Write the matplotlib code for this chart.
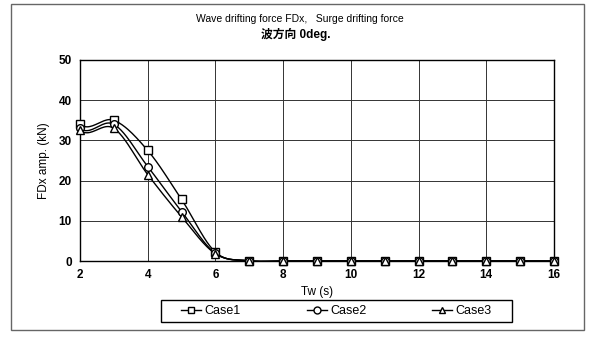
import numpy as np
import matplotlib
matplotlib.use("Agg")
import matplotlib.pyplot as plt
from matplotlib.patches import Rectangle

plt.rcParams['font.family'] = ['Liberation Sans', 'Noto Sans CJK JP', 'DejaVu Sans']

# first point (Tw=1) lies outside the visible axis range, only its curve shows
tw = [1, 2, 3, 4, 5, 6, 7, 8, 9, 10, 11, 12, 13, 14, 15, 16]
case1 = [48.0, 34.0, 35.0, 27.5, 15.3, 2.2, 0.1, 0, 0, 0, 0, 0, 0, 0, 0, 0]
case2 = [47.0, 33.0, 34.0, 23.5, 12.3, 1.9, 0.05, 0, 0, 0, 0, 0, 0, 0, 0, 0]
case3 = [46.0, 32.5, 33.0, 21.5, 11.0, 1.8, 0.05, 0, 0, 0, 0, 0, 0, 0, 0, 0]
series = [("Case1", case1, "s"), ("Case2", case2, "o"), ("Case3", case3, "^")]
xticks = [2, 4, 6, 8, 10, 12, 14, 16]
yticks = [0, 10, 20, 30, 40, 50]


def smooth(x, y, n=24):
    # Catmull-Rom smoothing (like a spreadsheet "smoothed line")
    x = np.asarray(x, float); y = np.asarray(y, float)
    px = np.concatenate([[x[0]], x, [x[-1]]])
    py = np.concatenate([[y[0]], y, [y[-1]]])
    xs, ys = [], []
    for i in range(1, len(px) - 2):
        t = np.linspace(0, 1, n, endpoint=False)
        for arr, out in ((px, xs), (py, ys)):
            p0, p1, p2, p3 = arr[i - 1], arr[i], arr[i + 1], arr[i + 2]
            m1 = (p2 - p0) / 2
            m2 = (p3 - p1) / 2
            h00 = 2 * t**3 - 3 * t**2 + 1
            h10 = t**3 - 2 * t**2 + t
            h01 = -2 * t**3 + 3 * t**2
            h11 = t**3 - t**2
            out.extend(h00 * p1 + h10 * m1 + h01 * p2 + h11 * m2)
    xs.append(x[-1]); ys.append(y[-1])
    return np.array(xs), np.array(ys)


W, H = 600, 337
fig = plt.figure(figsize=(6, 3.37), dpi=100)
fig.patches.append(Rectangle((11 / W, 1 - 330 / H), 573 / W, 326 / H,
                             transform=fig.transFigure, fill=False,
                             edgecolor='#666666', lw=1.0))
ax = fig.add_axes([80 / W, 1 - 261 / H, 474 / W, 201 / H])

handles = []
for name, vals, mk in series:
    sx, sy = smooth(tw, vals)
    ax.plot(sx, sy, color='black', lw=1.0, zorder=3)
    mx = [a for a in tw if a >= xticks[0]]
    my = [b for a, b in zip(tw, vals) if a >= xticks[0]]
    ax.plot(mx, my, linestyle='none', marker=mk, markersize=5.5,
            markerfacecolor='white', markeredgecolor='black', mew=1.0,
            zorder=4, clip_on=False)
    h, = ax.plot([], [], color='black', lw=1.0, marker=mk, markersize=5,
                 markerfacecolor='white', markeredgecolor='black')
    handles.append((h, name))

ax.set_xlim(2, 16)
ax.set_ylim(0, 50)
ax.set_xticks(xticks)
ax.set_yticks(yticks)
ax.grid(True, color='#333333', lw=0.7)
ax.set_axisbelow(True)
for s in ax.spines.values():
    s.set_color('black')
    s.set_linewidth(1.0)
ax.tick_params(length=0, labelsize=8.5, pad=6)
for lbl in ax.get_xticklabels() + ax.get_yticklabels():
    lbl.set_fontweight('bold')
ax.set_xlabel("Tw (s)", fontsize=8.5, labelpad=3)
ax.set_ylabel("FDx amp. (kN)", fontsize=8.5, labelpad=6)

fig.text(300 / W, 1 - 19 / H, "Wave drifting force FDx,   Surge drifting force",
         ha='center', va='center', fontsize=7.5)
fig.text(296 / W, 1 - 34 / H, "波方向 0deg.", ha='center', va='center',
         fontsize=8.5, fontweight='bold')

# legend box
fig.patches.append(Rectangle((161 / W, 1 - 322 / H), 351 / W, 22 / H,
                             transform=fig.transFigure, fill=False,
                             edgecolor='black', lw=1.0))
leg = fig.legend([h for h, _ in handles], [n for _, n in handles],
                 loc='center', bbox_to_anchor=(181 / W, 1 - 322 / H, 311 / W, 22 / H),
                 mode='expand', ncol=3, fontsize=9, frameon=False,
                 handlelength=1.6, handletextpad=0.3, borderpad=0.0,
                 borderaxespad=0.0)

fig.savefig("out.png", dpi=100)
